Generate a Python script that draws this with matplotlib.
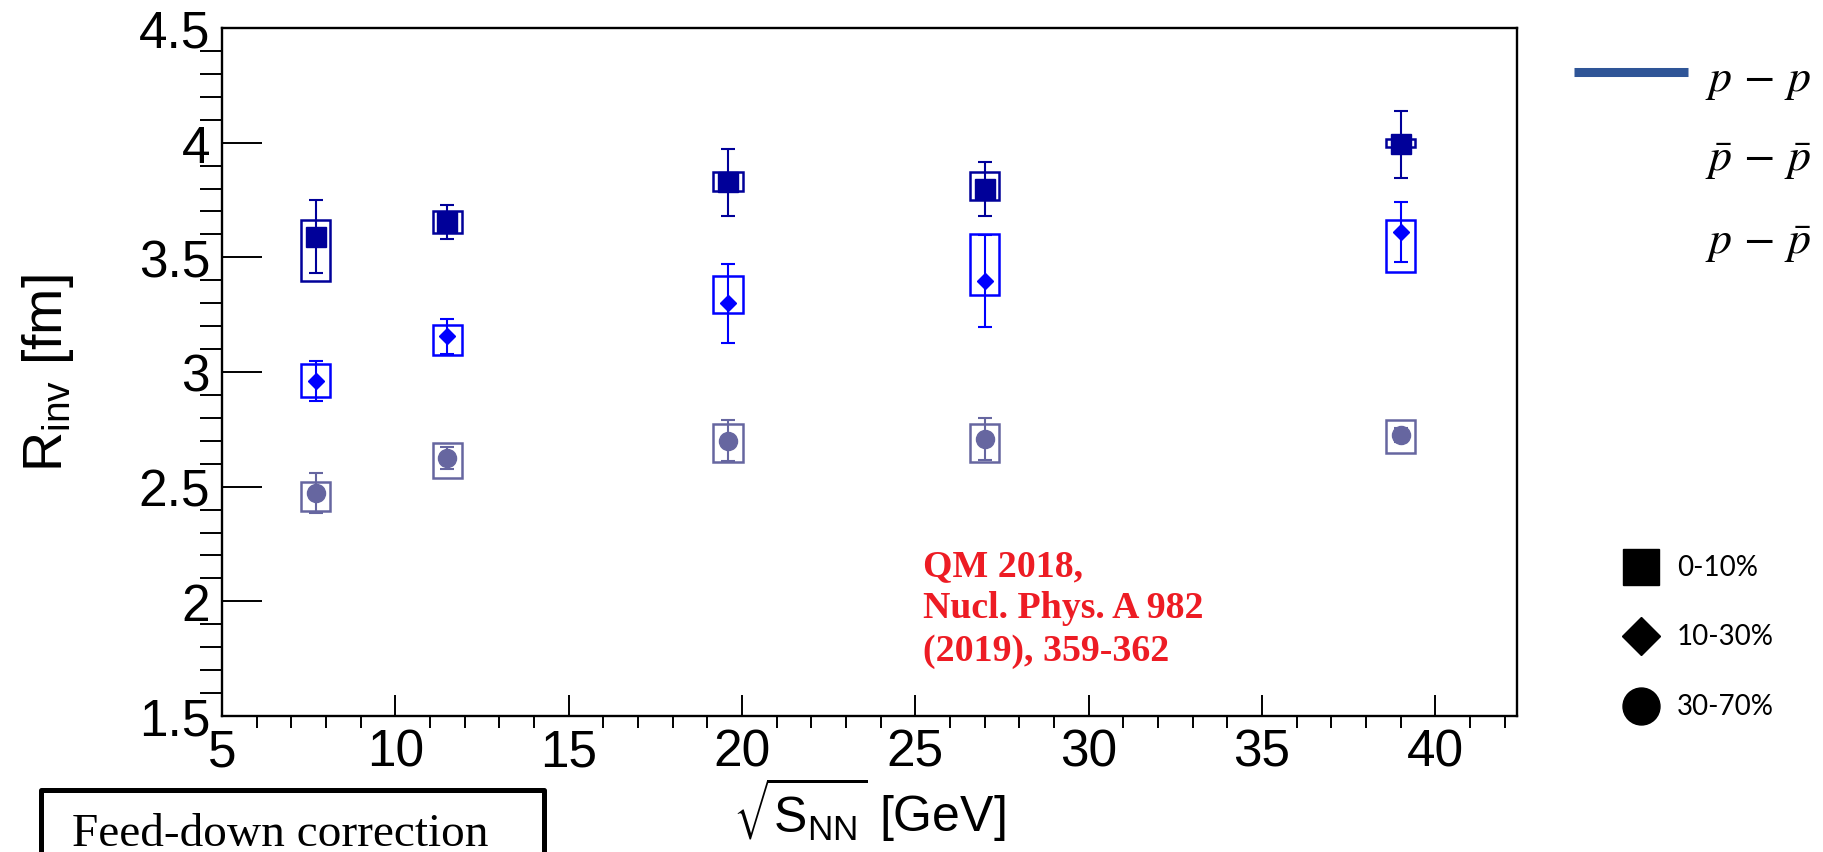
import numpy as np
import matplotlib
matplotlib.use("Agg")
import matplotlib.pyplot as plt
from matplotlib.lines import Line2D
from matplotlib.patches import Rectangle
from matplotlib.ticker import MultipleLocator

plt.rcParams['font.family'] = ['Liberation Sans', 'DejaVu Sans']
plt.rcParams['mathtext.fontset'] = 'custom'
plt.rcParams['mathtext.rm'] = 'Liberation Sans'
plt.rcParams['mathtext.it'] = 'Liberation Sans:italic'
plt.rcParams['mathtext.sf'] = 'Liberation Sans'

# collision energies
sqrt_s = [7.7, 11.5, 19.6, 27.0, 39.0]

# 0-10%
r_0_10 = [3.590, 3.655, 3.827, 3.798, 3.994]
stat_0_10 = [0.160, 0.075, 0.145, 0.117, 0.146]
sys_hi_0_10 = [0.073, 0.047, 0.046, 0.075, 0.022]
sys_lo_0_10 = [0.195, 0.048, 0.037, 0.047, 0.012]

# 10-30%
r_10_30 = [2.962, 3.155, 3.299, 3.398, 3.609]
stat_10_30 = [0.088, 0.077, 0.172, 0.200, 0.131]
sys_hi_10_30 = [0.073, 0.051, 0.121, 0.202, 0.052]
sys_lo_10_30 = [0.073, 0.082, 0.043, 0.061, 0.172]

# 30-70%
r_30_70 = [2.472, 2.625, 2.700, 2.708, 2.726]
stat_30_70 = [0.086, 0.050, 0.089, 0.092, 0.030]
sys_hi_30_70 = [0.047, 0.067, 0.073, 0.065, 0.066]
sys_lo_30_70 = [0.077, 0.087, 0.094, 0.102, 0.080]

fig = plt.figure(figsize=(18.23, 8.53), dpi=100)
ax = fig.add_axes([222/1823, 1-717/853, 1295/1823, 688/853])

series = [
    (r_0_10, stat_0_10, sys_lo_0_10, sys_hi_0_10, 's', 14.4, '#000099'),
    (r_10_30, stat_10_30, sys_lo_10_30, sys_hi_10_30, 'D', 8.6, '#0000ff'),
    (r_30_70, stat_30_70, sys_lo_30_70, sys_hi_30_70, 'o', 13.0, '#6666a0'),
]
for r, st, lo, hi, mk, ms, col in series:
    r = np.array(r); lo = np.array(lo); hi = np.array(hi)
    # systematic boxes
    ax.bar(sqrt_s, lo + hi, bottom=r - lo, width=0.85, fill=False,
           edgecolor=col, linewidth=1.8, zorder=2)
    # points with stat errors
    ax.errorbar(sqrt_s, r, yerr=st, fmt=mk, ms=ms, color=col, mec=col,
                elinewidth=1.5, capsize=5, capthick=1.5, zorder=3)

ax.set_xlim(5, 42.36)
ax.set_ylim(1.5, 4.5)
ax.xaxis.set_major_locator(MultipleLocator(5))
ax.xaxis.set_minor_locator(MultipleLocator(1))
ax.yaxis.set_major_locator(MultipleLocator(0.5))
ax.yaxis.set_minor_locator(MultipleLocator(0.1))
ax.yaxis.set_major_formatter(plt.FuncFormatter(lambda v, p: '%g' % v))

ax.tick_params(direction='in', labelsize=37, width=1.4, top=False, right=False)
ax.tick_params(axis='y', which='major', length=28.8, pad=8.6)
ax.tick_params(axis='y', which='minor', length=15.8, width=1.4)
ax.tick_params(axis='x', which='major', length=15, pad=8)
ax.tick_params(axis='x', which='minor', length=8.6, width=1.4)
for s in ax.spines.values():
    s.set_linewidth(1.7)

ax.set_xlabel(r'$\sqrt{\mathregular{S_{NN}}}$ [GeV]', fontsize=36, va='top',
              math_fontfamily='dejavusans')
ax.xaxis.set_label_coords(0.5, -0.085)
ax.set_ylabel(r'R$_{\mathrm{inv}}$ [fm]', fontsize=40)
ax.yaxis.set_label_coords(-0.113, 0.5)

# pair legend
fig.add_artist(Line2D([1574/1823, 1688/1823], [1-73/853, 1-73/853],
                      transform=fig.transFigure, color='#2f5597', lw=6.5,
                      solid_capstyle='butt'))
pair_labels = [r'$p\,-\,p$', r'$\bar{p}\,-\,\bar{p}$', r'$p\,-\,\bar{p}$']
for lab, yy in zip(pair_labels, [80, 160, 243]):
    fig.text(1705/1823, 1-yy/853, lab, fontsize=33, math_fontfamily='stix',
             va='center', ha='left')

# centrality legend
cent_labels = ['0-10%', '10-30%', '30-70%']
cent_markers = [('s', 26.6), ('D', 19.3), ('o', 26.6)]
for lab, (mk, ms), yy in zip(cent_labels, cent_markers, [568, 637, 707]):
    fig.add_artist(Line2D([1641/1823], [1-yy/853], transform=fig.transFigure,
                          marker=mk, ms=ms, color='black', ls='none'))
    fig.text(1677/1823, 1-yy/853, lab, fontsize=20, family='Lato',
             va='center', ha='left')

fig.text(923/1823, 1-549/853, 'QM 2018,\nNucl. Phys. A 982\n(2019), 359-362',
         color='#ed1c24', fontsize=27.3, family='Liberation Serif',
         weight='bold', va='top', ha='left', linespacing=1.27)

fig.add_artist(Rectangle((41/1823, -0.05), 503/1823, 0.05+1-791/853,
                         transform=fig.transFigure, fill=True, facecolor='white',
                         edgecolor='black', linewidth=3.6, joinstyle='round'))
fig.text(72/1823, 1-846/853, 'Feed-down correction', fontsize=34,
         family='Liberation Serif', va='baseline', ha='left')

fig.savefig('out.png', dpi=100)
